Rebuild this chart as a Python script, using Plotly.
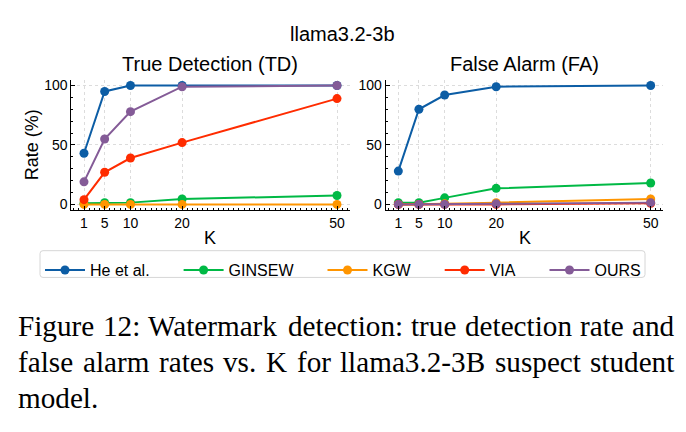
import plotly.graph_objects as go

# ---------------- data ----------------
K = [1, 5, 10, 20, 50]
k_ticktext = ["1", "5", "10", "20", "50"]
methods = ["He et al.", "GINSEW", "KGW", "VIA", "OURS"]
colors = ["#0C5DA5", "#00B945", "#FF9500", "#FF2C00", "#845B97"]

td_he = [43, 95, 100, 100, 100]
td_ginsew = [1, 1.5, 1.5, 4.5, 7.5]
td_kgw = [0, 0, 0, 0, 0]
td_via = [4, 27, 39, 52, 89]
td_ours = [19, 55, 78, 99, 100]

fa_he = [28, 80, 92, 99, 100]
fa_ginsew = [1.5, 1.5, 5.5, 13.5, 18]
fa_kgw = [0, 0, 0.5, 1.5, 4.5]
fa_via = [0, 0, 0, 0, 1]
fa_ours = [0, 0, 0, 0.5, 1.5]

y_ticks = [0, 50, 100]

suptitle = "llama3.2-3b"
titles = ["True Detection (TD)", "False Alarm (FA)"]
xlabel = "K"
ylabel = "Rate (%)"
caption_lines = [
    "Figure 12: Watermark detection: true detection rate and",
    "false alarm rates vs. K for llama3.2-3B suspect student",
    "model.",
]

# ---------------- geometry helpers ----------------
W, H = 686, 432


def X(px):
    return px / W


def Y(py):
    return 1 - py / H


SANS = "Liberation Sans"
SERIF = "Liberation Serif"

fig = go.Figure()

td = [td_he, td_ginsew, td_kgw, td_via, td_ours]
fa = [fa_he, fa_ginsew, fa_kgw, fa_via, fa_ours]
legend_ids = ["legend", "legend2", "legend3", "legend4", "legend5"]

for i, m in enumerate(methods):
    fig.add_trace(go.Scatter(
        x=K, y=td[i], mode="lines+markers", name=m,
        line=dict(color=colors[i], width=2),
        marker=dict(color=colors[i], size=9),
        xaxis="x", yaxis="y", legend=legend_ids[i], showlegend=True))
for i, m in enumerate(methods):
    fig.add_trace(go.Scatter(
        x=K, y=fa[i], mode="lines+markers", name=m,
        line=dict(color=colors[i], width=2),
        marker=dict(color=colors[i], size=9),
        xaxis="x2", yaxis="y2", showlegend=False))

common_x = dict(
    range=[-1.45, 52.45], tickmode="array", tickvals=K, ticktext=k_ticktext,
    ticks="inside", ticklen=4, tickwidth=1, tickcolor="black",
    showline=True, linecolor="black", linewidth=1, mirror=False,
    showgrid=True, gridcolor="#dcdcdc", griddash="dot", gridwidth=1,
    zeroline=False, tickfont=dict(family=SANS, size=14, color="black"),
    minor=dict(ticks="inside", ticklen=2, tickwidth=1, tickcolor="black",
               tickmode="linear", tick0=0, dtick=1, showgrid=False),
)
common_y = dict(
    range=[-5, 105], tickmode="array", tickvals=y_ticks,
    ticks="inside", ticklen=4, tickwidth=1, tickcolor="black",
    showline=True, linecolor="black", linewidth=1, mirror=False,
    showgrid=True, gridcolor="#dcdcdc", griddash="dot", gridwidth=1,
    zeroline=False, tickfont=dict(family=SANS, size=14, color="black"),
    minor=dict(ticks="inside", ticklen=2, tickwidth=1, tickcolor="black",
               tickmode="linear", tick0=0, dtick=10, showgrid=False),
)

y_dom = [Y(210.3), Y(78.3)]
fig.update_layout(
    width=W, height=H, autosize=False,
    margin=dict(l=0, r=0, t=0, b=0),
    paper_bgcolor="white", plot_bgcolor="white",
    font=dict(family=SANS, color="black"),
    xaxis=dict(domain=[X(71.35), X(349.65)], anchor="y", **common_x),
    yaxis=dict(domain=y_dom, anchor="x", **common_y),
    xaxis2=dict(domain=[X(385.7), X(663.3)], anchor="y2", **common_x),
    yaxis2=dict(domain=y_dom, anchor="x2", **common_y),
)

# legends: one per entry so spacing matches the reference
marker_centers = [62, 200.6, 344.5, 461.7, 566.5]
for i, lid in enumerate(legend_ids):
    fig.update_layout({lid: dict(
        orientation="h", x=X(marker_centers[i] - 22), xanchor="left",
        y=Y(253.5), yanchor="top", bgcolor="rgba(0,0,0,0)", borderwidth=0,
        font=dict(family=SANS, size=16, color="black"), itemwidth=40)})

# legend frame
x0, x1, y0, y1, r = 40, 645, 251, 278, 3
path = (f"M {X(x0 + r)},{Y(y0)} L {X(x1 - r)},{Y(y0)} Q {X(x1)},{Y(y0)} {X(x1)},{Y(y0 + r)} "
        f"L {X(x1)},{Y(y1 - r)} Q {X(x1)},{Y(y1)} {X(x1 - r)},{Y(y1)} "
        f"L {X(x0 + r)},{Y(y1)} Q {X(x0)},{Y(y1)} {X(x0)},{Y(y1 - r)} "
        f"L {X(x0)},{Y(y0 + r)} Q {X(x0)},{Y(y0)} {X(x0 + r)},{Y(y0)} Z")
fig.add_shape(type="path", path=path, xref="paper", yref="paper",
              line=dict(color="#d6d6d6", width=1), fillcolor="white", layer="below")

ann = []


def text_at(px, py, s, size, family=SANS, xanchor="center", angle=0):
    ann.append(dict(x=X(px), y=Y(py), xref="paper", yref="paper", text=s,
                    showarrow=False, xanchor=xanchor, yanchor="middle",
                    textangle=angle, font=dict(family=family, size=size, color="black")))


text_at(342, 32, suptitle, 20)
text_at(210.5, 63, titles[0], 20)
text_at(524.5, 63, titles[1], 20)
text_at(210.5, 238.5, xlabel, 18)
text_at(524.5, 238.5, xlabel, 18)
text_at(31.5, 144, ylabel, 18, angle=-90)

# caption (Times metrics, justified like the original)
tw = {" ": 250, ".": 250, ":": 278, "-": 333, "1": 500, "2": 500, "3": 500,
      "B": 667, "F": 556, "K": 722, "W": 944, "a": 444, "b": 500, "c": 444,
      "d": 500, "e": 444, "f": 333, "g": 500, "i": 278, "k": 500, "l": 278,
      "m": 778, "n": 500, "o": 500, "p": 500, "r": 333, "s": 389, "t": 278,
      "u": 500, "v": 500}
fs = 29.2
left, right = 16, 672.5
baselines = [337, 373, 410]
justify = [True, True, False]


def wwidth(w):
    return sum(tw.get(c, 500) for c in w) / 1000 * fs


for line, base, just in zip(caption_lines, baselines, justify):
    words = line.split(" ")
    widths = [wwidth(w) for w in words]
    if just and len(words) > 1:
        gap = (right - left - sum(widths)) / (len(words) - 1)
    else:
        gap = 0.25 * fs
    xpos = left
    for w, wd in zip(words, widths):
        text_at(xpos, base - 0.3375 * fs, w, fs, family=SERIF, xanchor="left")
        xpos += wd + gap

fig.update_layout(annotations=ann)
fig.write_html("out.html")
